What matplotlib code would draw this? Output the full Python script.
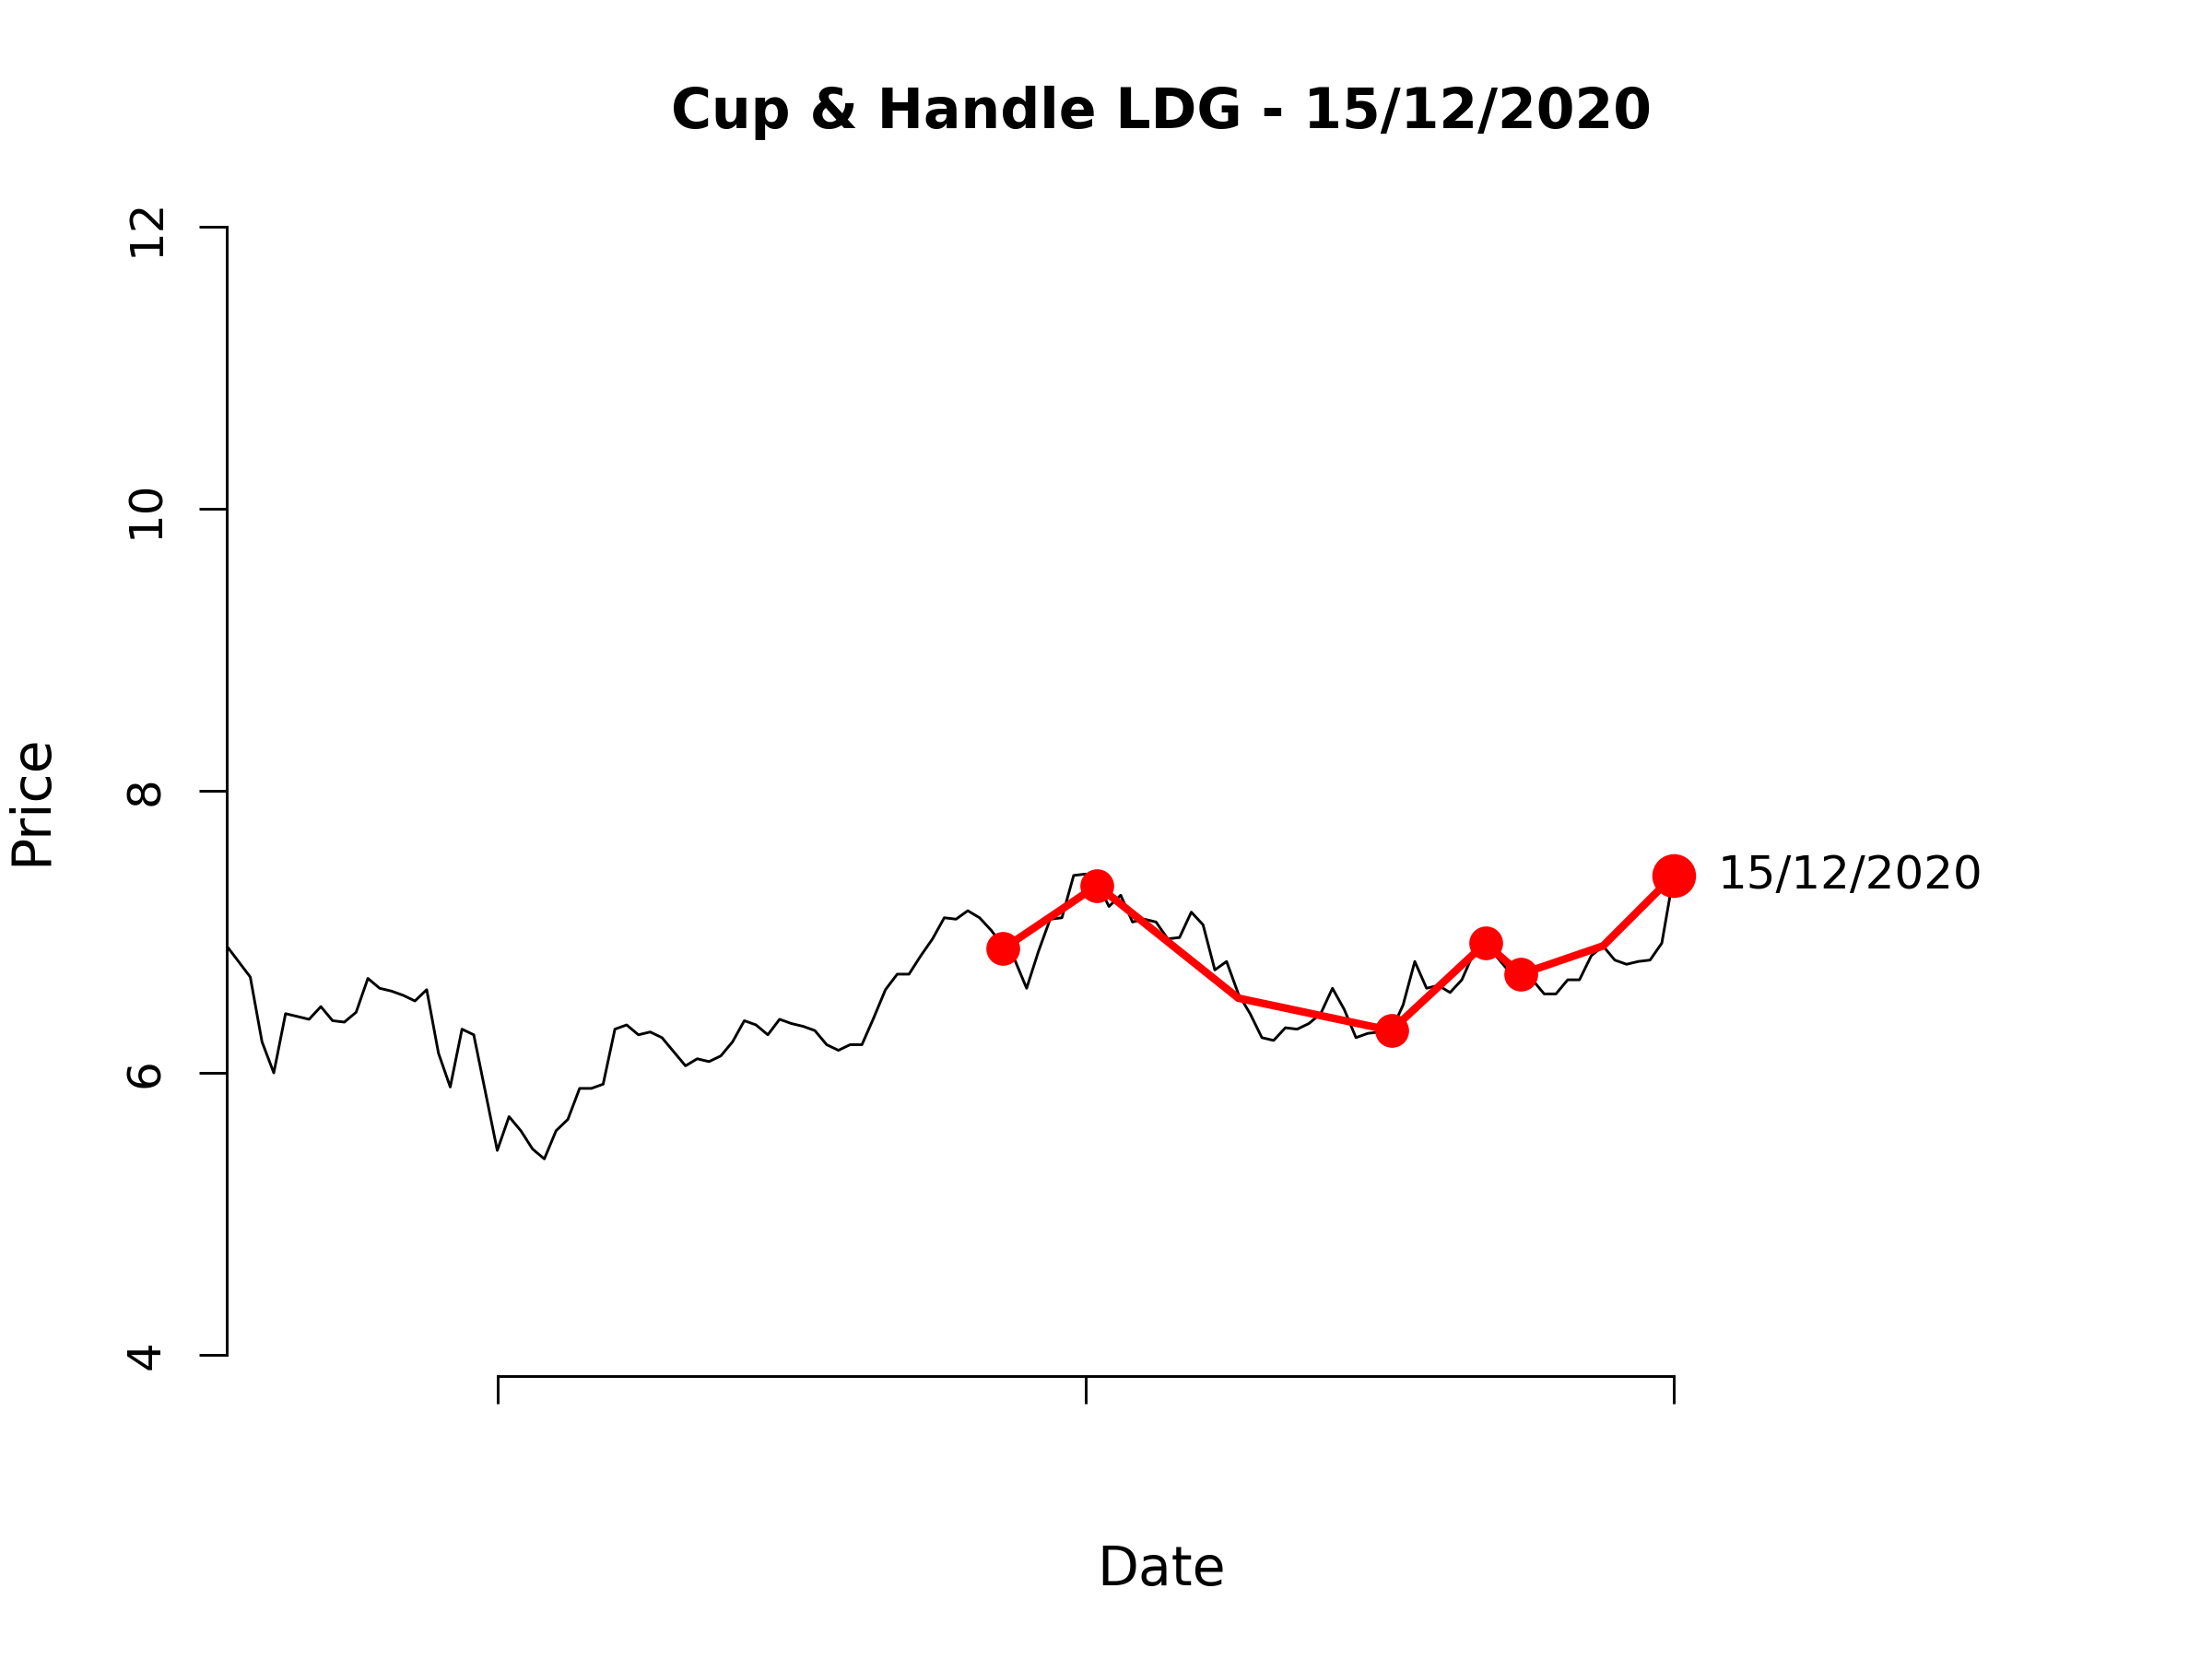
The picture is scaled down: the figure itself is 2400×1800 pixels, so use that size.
"""Cup & Handle pattern on LDG closing prices"""

import matplotlib
matplotlib.use("Agg")
import matplotlib.pyplot as plt

TITLE = "Cup & Handle LDG - 15/12/2020"
LAST_DATE = "15/12/2020"

# closing prices, one per trading day
CLOSE = [6.90, 6.79, 6.68, 6.22, 6.00, 6.42, 6.40, 6.38, 6.47, 6.37,
         6.36, 6.43, 6.67, 6.60, 6.58, 6.55, 6.51, 6.59, 6.14, 5.90,
         6.31, 6.27, 5.86, 5.45, 5.69, 5.59, 5.46, 5.39, 5.59, 5.67,
         5.89, 5.89, 5.92, 6.31, 6.34, 6.27, 6.29, 6.25, 6.15, 6.05,
         6.10, 6.08, 6.12, 6.22, 6.37, 6.34, 6.27, 6.38, 6.35, 6.33,
         6.30, 6.20, 6.16, 6.20, 6.20, 6.39, 6.59, 6.70, 6.70, 6.83,
         6.95, 7.10, 7.09, 7.15, 7.10, 7.01, 6.90, 6.80, 6.60, 6.86,
         7.09, 7.10, 7.40, 7.41, 7.35, 7.18, 7.26, 7.07, 7.09, 7.07,
         6.95, 6.96, 7.14, 7.05, 6.73, 6.79, 6.56, 6.42, 6.25, 6.23,
         6.32, 6.31, 6.35, 6.42, 6.60, 6.45, 6.25, 6.28, 6.29, 6.30,
         6.48, 6.79, 6.60, 6.62, 6.57, 6.66, 6.85, 6.92, 6.82, 6.72,
         6.70, 6.66, 6.56, 6.56, 6.66, 6.66, 6.83, 6.90, 6.80, 6.77,
         6.79, 6.80, 6.92, 7.40]
DAYS = list(range(len(CLOSE)))

# pattern points (day index, price) and which of them get a dot
PAT_DAYS = [66, 74, 86, 99, 107, 110, 117, 123]
PAT_PRICE = [6.88, 7.33, 6.53, 6.30, 6.92, 6.70, 6.90, 7.40]
PAT_DOT = [True, True, False, True, True, True, False, True]

X_TICKS = [23, 73, 123]
Y_TICKS = [4, 6, 8, 10, 12]

fig = plt.figure(figsize=(8, 6), dpi=300)
ax = fig.add_axes([0.1025, 0.1833, 0.845, 0.68])

ax.plot(DAYS, CLOSE, color="black", lw=0.7)
ax.plot(PAT_DAYS, PAT_PRICE, color="red", lw=2.0, solid_joinstyle="miter")
dot_x = [d for d, k in zip(PAT_DAYS[:-1], PAT_DOT[:-1]) if k]
dot_y = [p for p, k in zip(PAT_PRICE[:-1], PAT_DOT[:-1]) if k]
ax.plot(dot_x, dot_y, "o", color="red", ms=8.8, mec="none")
ax.plot(PAT_DAYS[-1], PAT_PRICE[-1], "o", color="red", ms=11.4, mec="none")
ax.annotate(LAST_DATE, (PAT_DAYS[-1], PAT_PRICE[-1]), xytext=(11.5, 0),
            textcoords="offset points", va="center", ha="left", fontsize=12)

ax.set_xlim(0, 158.9)
ax.set_ylim(4, 12)

# R style axes
for s in ["top", "right"]:
    ax.spines[s].set_visible(False)
ax.spines["left"].set_bounds(4, 12)
ax.spines["bottom"].set_position(("outward", 5.5))
ax.spines["bottom"].set_bounds(X_TICKS[0], X_TICKS[-1])
for s in ["left", "bottom"]:
    ax.spines[s].set_linewidth(0.7)

ax.set_xticks(X_TICKS)
ax.set_xticklabels([])
ax.set_yticks(Y_TICKS)
ax.set_yticklabels([str(v) for v in Y_TICKS], rotation=90, va="center")
ax.tick_params(length=7.3, width=0.7, labelsize=12, pad=8)

ax.text(0.5, 1.101, TITLE, transform=ax.transAxes, ha="center", va="center",
        fontweight="bold", fontsize=14.4)
ax.set_xlabel("Date", fontsize=14)
ax.set_ylabel("Price", fontsize=14)
ax.xaxis.set_label_coords(0.5, -0.191)
ax.yaxis.set_label_coords(-0.1045, 0.492)
ax.xaxis.label.set_va("center")
ax.yaxis.label.set_va("center")

fig.savefig("out.png", dpi=300)
